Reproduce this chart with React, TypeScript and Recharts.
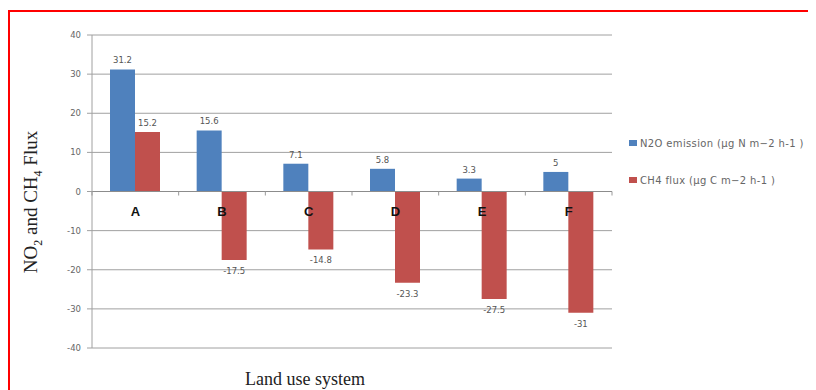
import React from 'react';
import { BarChart, Bar, XAxis, YAxis, CartesianGrid, Legend, LabelList, ReferenceLine } from 'recharts';

const categories = ['A', 'B', 'C', 'D', 'E', 'F'];
const n2oValues = [31.2, 15.6, 7.1, 5.8, 3.3, 5];
const ch4Values = [15.2, -17.5, -14.8, -23.3, -27.5, -31];
const yTicks = [-40, -30, -20, -10, 0, 10, 20, 30, 40];
const n2oName = 'N2O emission (µg N m\u22122 h-1 )';
const ch4Name = 'CH4 flux (µg C m\u22122 h-1 )';

const data = categories.map((c, i) => ({ cat: c, n2o: n2oValues[i], ch4: ch4Values[i] }));

const W = 806;
const H = 378;
const LEGEND_W = 190;
const M = { top: 23, right: 204 - LEGEND_W, bottom: 0, left: 0 };
const XAXIS_H = 42;
const PLOT_TOP = M.top;
const PLOT_BOTTOM = H - XAXIS_H;
const ZERO_Y = (PLOT_TOP + PLOT_BOTTOM) / 2;
const PLOT_LEFT = 82;
const PLOT_RIGHT = W - 204;
const BAND = (PLOT_RIGHT - PLOT_LEFT) / categories.length;

const BLUE = '#4F81BD';
const RED = '#C0504D';

const CatTick = (props: any) => {
  const { x, payload, index } = props;
  return (
    <g>
      <line x1={x - BAND / 2} x2={x - BAND / 2} y1={ZERO_Y} y2={ZERO_Y + 4} stroke="#999" />
      {index === categories.length - 1 && (
        <line x1={x + BAND / 2} x2={x + BAND / 2} y1={ZERO_Y} y2={ZERO_Y + 4} stroke="#999" />
      )}
      <text x={x} y={ZERO_Y + 24} textAnchor="middle" fontFamily="Liberation Sans, Arial, sans-serif" fontWeight="bold" fontSize={13} fill="#111">
        {payload.value}
      </text>
    </g>
  );
};

const ValueLabel = (props: any) => {
  const { x, y, width, height, value } = props;
  const top = Math.min(y, y + height);
  const bottom = Math.max(y, y + height);
  const cx = x + width / 2;
  const ty = value >= 0 ? top - 6 : bottom + 14;
  return (
    <text x={cx} y={ty} textAnchor="middle" fontFamily="DejaVu Sans, sans-serif" fontSize={8.5} fill="#555">
      {value}
    </text>
  );
};

const LegendContent = () => (
  <div style={{ fontFamily: 'DejaVu Sans, sans-serif', fontSize: 10, letterSpacing: 0.35, color: '#666' }}>
    {[{ c: BLUE, t: n2oName }, { c: RED, t: ch4Name }].map((it, i) => (
      <div key={i} style={{ display: 'flex', alignItems: 'center', height: 12, marginBottom: i === 0 ? 25 : 0, whiteSpace: 'nowrap' }}>
        <span style={{ display: 'inline-block', width: 8, height: 6, background: it.c, marginRight: 3 }} />
        <span>{it.t}</span>
      </div>
    ))}
  </div>
);

const YLabel = () => (
  <text
    transform={`translate(27, 190) rotate(-90)`}
    textAnchor="middle"
    fontFamily="Liberation Serif, 'Times New Roman', serif"
    fontSize={19}
    fill="#222"
  >
    NO<tspan fontSize={12} dy={5}>2</tspan>
    <tspan dy={-5}> and CH</tspan>
    <tspan fontSize={12} dy={5}>4</tspan>
    <tspan dy={-5}> Flux</tspan>
  </text>
);

const XLabel = () => (
  <text x={295} y={373} textAnchor="middle" fontFamily="Liberation Serif, 'Times New Roman', serif" fontSize={18} fill="#222">
    Land use system
  </text>
);

export default function App() {
  return (
    <div style={{ marginTop: 2, borderTop: '2px solid #ff0000', borderLeft: '2px solid #ff0000', width: W, height: H, background: '#fff' }}>
      <BarChart width={W} height={H} data={data} margin={M} barGap={0}>
        <CartesianGrid vertical={false} stroke="#a0a0a0" strokeWidth={1} />
        <XAxis
          dataKey="cat"
          height={XAXIS_H}
          axisLine={false}
          tickLine={false}
          tick={<CatTick />}
          interval={0}
          label={<XLabel />}
        />
        <YAxis
          width={PLOT_LEFT}
          domain={[-40, 40]}
          ticks={yTicks}
          interval={0}
          axisLine={{ stroke: '#a0a0a0' }}
          tickLine={{ stroke: '#a0a0a0' }}
          tickSize={5}
          tickMargin={6}
          tick={{ fontFamily: 'DejaVu Sans, sans-serif', fontSize: 8.5, fill: '#666' }}
          label={<YLabel />}
        />
        <ReferenceLine y={0} stroke="#8c8c8c" />
        <Legend
          layout="vertical"
          align="right"
          verticalAlign="middle"
          content={<LegendContent />}
          wrapperStyle={{ left: 619, top: 125, width: LEGEND_W }}
        />
        <Bar dataKey="n2o" name={n2oName} fill={BLUE} barSize={25} isAnimationActive={false}>
          <LabelList dataKey="n2o" content={<ValueLabel />} />
        </Bar>
        <Bar dataKey="ch4" name={ch4Name} fill={RED} barSize={25} isAnimationActive={false}>
          <LabelList dataKey="ch4" content={<ValueLabel />} />
        </Bar>
      </BarChart>
    </div>
  );
}
